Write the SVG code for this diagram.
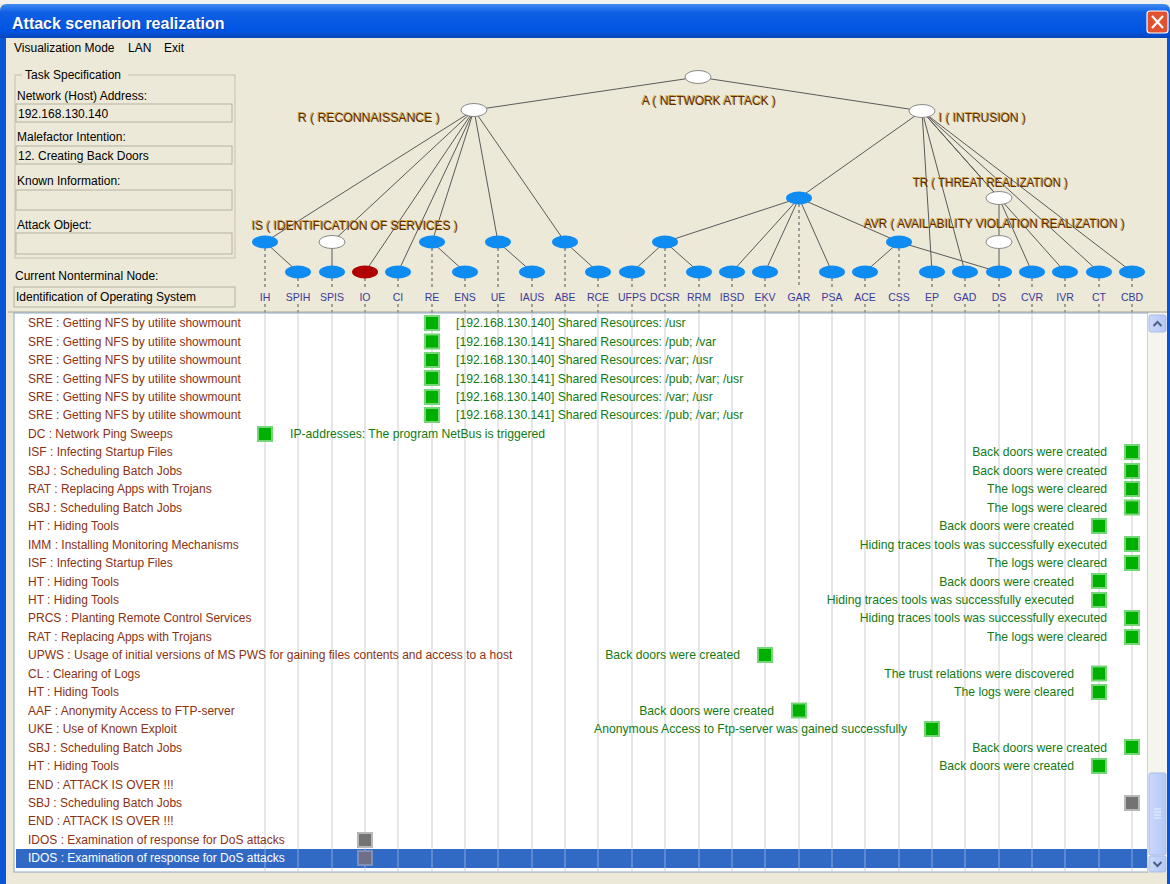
<svg xmlns="http://www.w3.org/2000/svg" width="1170" height="884" viewBox="0 0 1170 884">
<defs>
<linearGradient id="tb" x1="0" y1="0" x2="0" y2="1">
<stop offset="0" stop-color="#3f8cf3"/>
<stop offset="0.25" stop-color="#0f5fe3"/>
<stop offset="0.8" stop-color="#0054e3"/>
<stop offset="1" stop-color="#0a45b8"/>
</linearGradient>
<linearGradient id="sb" x1="0" y1="0" x2="1" y2="0">
<stop offset="0" stop-color="#c9d8fc"/>
<stop offset="1" stop-color="#b4c8f6"/>
</linearGradient>
<style>
.ui{font-family:"Liberation Sans",Arial,sans-serif;font-size:12px;fill:#000}
.lt{font-family:"Liberation Sans",Arial,sans-serif;font-size:12px;fill:#8a3212}
.gt{font-family:"Liberation Sans",Arial,sans-serif;font-size:12.2px;fill:#137a13}
.gr{font-family:"Liberation Sans",Arial,sans-serif;font-size:12.2px;fill:#137a13;text-anchor:end}
.sq{fill:#00b000;stroke:#74d674;stroke-width:2}
.gs{fill:#737373;stroke:#b8b8b8;stroke-width:2}
.vl{stroke:#cfcfcf;stroke-width:1}
.e{stroke:#5a5a5a;stroke-width:1;fill:none}
.d{stroke:#555;stroke-width:1;stroke-dasharray:3 3}
.bn{fill:#0e8cf2}
.wn{fill:#fff;stroke:#8a8a8a;stroke-width:1}
.rn{fill:#b00000}
.cl{font-family:"Liberation Sans",Arial,sans-serif;font-size:10.5px;fill:#3a3a9a;text-anchor:middle}
.tl{font-family:"Liberation Sans",Arial,sans-serif;font-size:13px;fill:#5e2a08}
.ts{font-family:"Liberation Sans",Arial,sans-serif;font-size:13px;fill:#c9a23c}
.fld{fill:#ece9d8;stroke:#b5b2a2;stroke-width:1}
</style>
</defs>

<!-- window background -->
<rect x="0" y="0" width="1170" height="884" fill="#ece9d8"/>
<rect x="0" y="0" width="1170" height="4" fill="#f2f2f2"/>
<!-- title bar -->
<g id="titlebar">
<path d="M0,38 L0,11 Q0,4 7,4 L1163,4 Q1170,4 1170,11 L1170,38 Z" fill="url(#tb)"/>
<text x="13" y="30" font-family="Liberation Sans,Arial,sans-serif" font-size="16" font-weight="bold" fill="#0a2a80" opacity="0.6">Attack scenarion realization</text>
<text x="12" y="29" font-family="Liberation Sans,Arial,sans-serif" font-size="16" font-weight="bold" fill="#ffffff">Attack scenarion realization</text>
<rect x="1147" y="11" width="21" height="22" rx="3" fill="#e2502f" stroke="#ffffff" stroke-width="1.2"/>
<path d="M1152,16 L1163,28 M1163,16 L1152,28" stroke="#ffffff" stroke-width="2.2"/>
</g>
<!-- window side borders -->
<rect x="0" y="38" width="6" height="846" fill="#0a54d6"/>
<rect x="1167" y="38" width="3" height="846" fill="#0a54d6"/>

<!-- menu -->
<g id="menu">
<text class="ui" x="14" y="52">Visualization Mode</text>
<text class="ui" x="128" y="52">LAN</text>
<text class="ui" x="164" y="52">Exit</text>
</g>

<!-- left panel -->
<g id="taskpanel">
<rect x="15" y="75" width="220" height="183" fill="none" stroke="#c5c2b2" stroke-width="1"/>
<rect x="22" y="68" width="106" height="14" fill="#ece9d8"/>
<text class="ui" x="25" y="79">Task Specification</text>
<text class="ui" x="17" y="100">Network (Host) Address:</text>
<rect class="fld" x="16" y="104" width="216" height="18"/>
<text class="ui" x="18" y="118">192.168.130.140</text>
<text class="ui" x="17" y="141">Malefactor Intention:</text>
<rect class="fld" x="16" y="146" width="216" height="18"/>
<text class="ui" x="18" y="160">12. Creating Back Doors</text>
<text class="ui" x="17" y="185">Known Information:</text>
<rect class="fld" x="16" y="190" width="216" height="20"/>
<text class="ui" x="17" y="229">Attack Object:</text>
<rect class="fld" x="16" y="233" width="216" height="21"/>
<text class="ui" x="15" y="280">Current Nonterminal Node:</text>
<rect class="fld" x="14" y="287" width="221" height="20"/>
<text class="ui" x="16" y="301">Identification of Operating System</text>
</g>

<!-- connectors -->
<g id="connectors">
<line class="e" x1="698" y1="77" x2="474" y2="110"/>
<line class="e" x1="698" y1="77" x2="922" y2="111"/>
<line class="e" x1="474" y1="110" x2="265" y2="242"/>
<line class="e" x1="474" y1="110" x2="332" y2="242"/>
<line class="e" x1="474" y1="110" x2="365" y2="272"/>
<line class="e" x1="474" y1="110" x2="398" y2="272"/>
<line class="e" x1="474" y1="110" x2="432" y2="242"/>
<line class="e" x1="474" y1="110" x2="498" y2="242"/>
<line class="e" x1="474" y1="110" x2="565" y2="242"/>
<line class="e" x1="265" y1="242" x2="298" y2="272"/>
<line class="e" x1="332" y1="242" x2="332" y2="272"/>
<line class="e" x1="432" y1="242" x2="465" y2="272"/>
<line class="e" x1="498" y1="242" x2="532" y2="272"/>
<line class="e" x1="565" y1="242" x2="598" y2="272"/>
<line class="e" x1="665" y1="242" x2="632" y2="272"/>
<line class="e" x1="665" y1="242" x2="699" y2="272"/>
<line class="e" x1="799" y1="198" x2="665" y2="242"/>
<line class="e" x1="799" y1="198" x2="732" y2="272"/>
<line class="e" x1="799" y1="198" x2="765" y2="272"/>
<line class="e" x1="799" y1="198" x2="832" y2="272"/>
<line class="e" x1="799" y1="198" x2="899" y2="242"/>
<line class="e" x1="899" y1="242" x2="865" y2="272"/>
<line class="e" x1="899" y1="242" x2="999" y2="272"/>
<line class="e" x1="922" y1="111" x2="799" y2="198"/>
<line class="e" x1="922" y1="111" x2="932" y2="272"/>
<line class="e" x1="922" y1="111" x2="965" y2="272"/>
<line class="e" x1="922" y1="111" x2="999" y2="198"/>
<line class="e" x1="999" y1="198" x2="999" y2="242"/>
<line class="e" x1="999" y1="242" x2="999" y2="272"/>
<line class="e" x1="999" y1="198" x2="1032" y2="272"/>
<line class="e" x1="922" y1="111" x2="1065" y2="272"/>
<line class="e" x1="922" y1="111" x2="1099" y2="272"/>
<line class="e" x1="922" y1="111" x2="1132" y2="272"/>
<!-- dashed drop lines -->
<path class="d" d="M265,248V288M265,304V313 M298,278V288M298,304V313 M332,278V288M332,304V313 M365,278V288M365,304V313 M398,278V288M398,304V313 M432,248V288M432,304V313 M465,278V288M465,304V313 M498,248V288M498,304V313 M532,278V288M532,304V313 M565,248V288M565,304V313 M598,278V288M598,304V313 M632,278V288M632,304V313 M665,248V288M665,304V313 M699,278V288M699,304V313 M732,278V288M732,304V313 M765,278V288M765,304V313 M799,204V288M799,304V313 M832,278V288M832,304V313 M865,278V288M865,304V313 M899,248V288M899,304V313 M932,278V288M932,304V313 M965,278V288M965,304V313 M999,278V288M999,304V313 M1032,278V288M1032,304V313 M1065,278V288M1065,304V313 M1099,278V288M1099,304V313 M1132,278V288M1132,304V313"/>
</g>

<!-- tree labels -->
<g id="treelabels">
<text class="ts" x="641" y="104" textLength="134" lengthAdjust="spacingAndGlyphs">A ( NETWORK ATTACK )</text>
<text class="tl" x="642" y="105" textLength="134" lengthAdjust="spacingAndGlyphs">A ( NETWORK ATTACK )</text>
<text class="ts" x="297" y="121" textLength="142" lengthAdjust="spacingAndGlyphs">R ( RECONNAISSANCE )</text>
<text class="tl" x="298" y="122" textLength="142" lengthAdjust="spacingAndGlyphs">R ( RECONNAISSANCE )</text>
<text class="ts" x="938" y="121" textLength="87" lengthAdjust="spacingAndGlyphs">I ( INTRUSION )</text>
<text class="tl" x="939" y="122" textLength="87" lengthAdjust="spacingAndGlyphs">I ( INTRUSION )</text>
<text class="ts" x="251" y="229" textLength="206" lengthAdjust="spacingAndGlyphs">IS ( IDENTIFICATION OF SERVICES )</text>
<text class="tl" x="252" y="230" textLength="206" lengthAdjust="spacingAndGlyphs">IS ( IDENTIFICATION OF SERVICES )</text>
<text class="ts" x="912" y="186" textLength="155" lengthAdjust="spacingAndGlyphs">TR ( THREAT REALIZATION )</text>
<text class="tl" x="913" y="187" textLength="155" lengthAdjust="spacingAndGlyphs">TR ( THREAT REALIZATION )</text>
<text class="ts" x="863" y="227" textLength="261" lengthAdjust="spacingAndGlyphs">AVR ( AVAILABILITY VIOLATION REALIZATION )</text>
<text class="tl" x="864" y="228" textLength="261" lengthAdjust="spacingAndGlyphs">AVR ( AVAILABILITY VIOLATION REALIZATION )</text>
</g>

<!-- nodes -->
<g id="node-A"><ellipse class="wn" cx="698" cy="77" rx="13" ry="6.5"/></g>
<g id="node-R"><ellipse class="wn" cx="474" cy="110" rx="13" ry="6.5"/></g>
<g id="node-I"><ellipse class="wn" cx="922" cy="111" rx="13" ry="6.5"/></g>
<g id="node-IS"><ellipse class="bn" cx="265" cy="242" rx="13" ry="6.5"/></g>
<g id="node-SPISp"><ellipse class="wn" cx="332" cy="242" rx="13" ry="6.5"/></g>
<g id="node-REp"><ellipse class="bn" cx="432" cy="242" rx="13" ry="6.5"/></g>
<g id="node-UEp"><ellipse class="bn" cx="498" cy="242" rx="13" ry="6.5"/></g>
<g id="node-ABEp"><ellipse class="bn" cx="565" cy="242" rx="13" ry="6.5"/></g>
<g id="node-DCSRp"><ellipse class="bn" cx="665" cy="242" rx="13" ry="6.5"/></g>
<g id="node-GARp"><ellipse class="bn" cx="799" cy="198" rx="13" ry="6.5"/></g>
<g id="node-TR"><ellipse class="wn" cx="999" cy="198" rx="13" ry="6.5"/></g>
<g id="node-AVR"><ellipse class="bn" cx="899" cy="242" rx="13" ry="6.5"/></g>
<g id="node-DSp"><ellipse class="wn" cx="999" cy="242" rx="13" ry="6.5"/></g>
<g id="node-SPIH"><ellipse class="bn" cx="298" cy="272" rx="13" ry="6.5"/></g>
<g id="node-SPIS"><ellipse class="bn" cx="332" cy="272" rx="13" ry="6.5"/></g>
<g id="node-IO"><ellipse class="rn" cx="365" cy="272" rx="13" ry="6.5"/></g>
<g id="node-CI"><ellipse class="bn" cx="398" cy="272" rx="13" ry="6.5"/></g>
<g id="node-ENS"><ellipse class="bn" cx="465" cy="272" rx="13" ry="6.5"/></g>
<g id="node-IAUS"><ellipse class="bn" cx="532" cy="272" rx="13" ry="6.5"/></g>
<g id="node-RCE"><ellipse class="bn" cx="598" cy="272" rx="13" ry="6.5"/></g>
<g id="node-UFPS"><ellipse class="bn" cx="632" cy="272" rx="13" ry="6.5"/></g>
<g id="node-RRM"><ellipse class="bn" cx="699" cy="272" rx="13" ry="6.5"/></g>
<g id="node-IBSD"><ellipse class="bn" cx="732" cy="272" rx="13" ry="6.5"/></g>
<g id="node-EKV"><ellipse class="bn" cx="765" cy="272" rx="13" ry="6.5"/></g>
<g id="node-PSA"><ellipse class="bn" cx="832" cy="272" rx="13" ry="6.5"/></g>
<g id="node-ACE"><ellipse class="bn" cx="865" cy="272" rx="13" ry="6.5"/></g>
<g id="node-EP"><ellipse class="bn" cx="932" cy="272" rx="13" ry="6.5"/></g>
<g id="node-GAD"><ellipse class="bn" cx="965" cy="272" rx="13" ry="6.5"/></g>
<g id="node-DS"><ellipse class="bn" cx="999" cy="272" rx="13" ry="6.5"/></g>
<g id="node-CVR"><ellipse class="bn" cx="1032" cy="272" rx="13" ry="6.5"/></g>
<g id="node-IVR"><ellipse class="bn" cx="1065" cy="272" rx="13" ry="6.5"/></g>
<g id="node-CT"><ellipse class="bn" cx="1099" cy="272" rx="13" ry="6.5"/></g>
<g id="node-CBD"><ellipse class="bn" cx="1132" cy="272" rx="13" ry="6.5"/></g>

<!-- column labels -->
<g id="columnlabels">
<text class="cl" x="265" y="301">IH</text>
<text class="cl" x="298" y="301">SPIH</text>
<text class="cl" x="332" y="301">SPIS</text>
<text class="cl" x="365" y="301">IO</text>
<text class="cl" x="398" y="301">CI</text>
<text class="cl" x="432" y="301">RE</text>
<text class="cl" x="465" y="301">ENS</text>
<text class="cl" x="498" y="301">UE</text>
<text class="cl" x="532" y="301">IAUS</text>
<text class="cl" x="565" y="301">ABE</text>
<text class="cl" x="598" y="301">RCE</text>
<text class="cl" x="632" y="301">UFPS</text>
<text class="cl" x="665" y="301">DCSR</text>
<text class="cl" x="699" y="301">RRM</text>
<text class="cl" x="732" y="301">IBSD</text>
<text class="cl" x="765" y="301">EKV</text>
<text class="cl" x="799" y="301">GAR</text>
<text class="cl" x="832" y="301">PSA</text>
<text class="cl" x="865" y="301">ACE</text>
<text class="cl" x="899" y="301">CSS</text>
<text class="cl" x="932" y="301">EP</text>
<text class="cl" x="965" y="301">GAD</text>
<text class="cl" x="999" y="301">DS</text>
<text class="cl" x="1032" y="301">CVR</text>
<text class="cl" x="1065" y="301">IVR</text>
<text class="cl" x="1099" y="301">CT</text>
<text class="cl" x="1132" y="301">CBD</text>
</g>

<!-- list -->
<g id="list">
<line x1="8" y1="312" x2="1167" y2="312" stroke="#a7a494"/>
<rect x="14" y="313" width="1134" height="559" fill="#ffffff" stroke="#8fa6c4"/>
<path class="vl" d="M265,314V871M298,314V871M332,314V871M365,314V871M398,314V871M432,314V871M465,314V871M498,314V871M532,314V871M565,314V871M598,314V871M632,314V871M665,314V871M699,314V871M732,314V871M765,314V871M799,314V871M832,314V871M865,314V871M899,314V871M932,314V871M965,314V871M999,314V871M1032,314V871M1065,314V871M1099,314V871M1132,314V871"/>
<rect x="16" y="849" width="1131" height="19" fill="#316ac5"/>
<path stroke="#8aa6dc" stroke-width="1" d="M265,849V868M298,849V868M332,849V868M365,849V868M398,849V868M432,849V868M465,849V868M498,849V868M532,849V868M565,849V868M598,849V868M632,849V868M665,849V868M699,849V868M732,849V868M765,849V868M799,849V868M832,849V868M865,849V868M899,849V868M932,849V868M965,849V868M999,849V868M1032,849V868M1065,849V868M1099,849V868M1132,849V868"/>

<text class="lt" x="28" y="327">SRE : Getting NFS by utilite showmount</text>
<text class="lt" x="28" y="346">SRE : Getting NFS by utilite showmount</text>
<text class="lt" x="28" y="364">SRE : Getting NFS by utilite showmount</text>
<text class="lt" x="28" y="383">SRE : Getting NFS by utilite showmount</text>
<text class="lt" x="28" y="401">SRE : Getting NFS by utilite showmount</text>
<text class="lt" x="28" y="419">SRE : Getting NFS by utilite showmount</text>
<text class="lt" x="28" y="438">DC : Network Ping Sweeps</text>
<text class="lt" x="28" y="456">ISF : Infecting Startup Files</text>
<text class="lt" x="28" y="475">SBJ : Scheduling Batch Jobs</text>
<text class="lt" x="28" y="493">RAT : Replacing Apps with Trojans</text>
<text class="lt" x="28" y="512">SBJ : Scheduling Batch Jobs</text>
<text class="lt" x="28" y="530">HT : Hiding Tools</text>
<text class="lt" x="28" y="549">IMM : Installing Monitoring Mechanisms</text>
<text class="lt" x="28" y="567">ISF : Infecting Startup Files</text>
<text class="lt" x="28" y="586">HT : Hiding Tools</text>
<text class="lt" x="28" y="604">HT : Hiding Tools</text>
<text class="lt" x="28" y="622">PRCS : Planting Remote Control Services</text>
<text class="lt" x="28" y="641">RAT : Replacing Apps with Trojans</text>
<text class="lt" x="28" y="659">UPWS : Usage of initial versions of MS PWS for gaining files contents and access to a host</text>
<text class="lt" x="28" y="678">CL : Clearing of Logs</text>
<text class="lt" x="28" y="696">HT : Hiding Tools</text>
<text class="lt" x="28" y="715">AAF : Anonymity Access to FTP-server</text>
<text class="lt" x="28" y="733">UKE : Use of Known Exploit</text>
<text class="lt" x="28" y="752">SBJ : Scheduling Batch Jobs</text>
<text class="lt" x="28" y="770">HT : Hiding Tools</text>
<text class="lt" x="28" y="789">END : ATTACK IS OVER !!!</text>
<text class="lt" x="28" y="807">SBJ : Scheduling Batch Jobs</text>
<text class="lt" x="28" y="825">END : ATTACK IS OVER !!!</text>
<text class="lt" x="28" y="844">IDOS : Examination of response for DoS attacks</text>
<text class="lt" x="28" y="862" style="fill:#ffffff">IDOS : Examination of response for DoS attacks</text>

<rect class="sq" x="425" y="316" width="14" height="14"/>
<rect class="sq" x="425" y="334.5" width="14" height="14"/>
<rect class="sq" x="425" y="353" width="14" height="14"/>
<rect class="sq" x="425" y="371" width="14" height="14"/>
<rect class="sq" x="425" y="390" width="14" height="14"/>
<rect class="sq" x="425" y="408" width="14" height="14"/>
<text class="gt" x="456" y="327">[192.168.130.140] Shared Resources: /usr</text>
<text class="gt" x="456" y="346">[192.168.130.141] Shared Resources: /pub; /var</text>
<text class="gt" x="456" y="364">[192.168.130.140] Shared Resources: /var; /usr</text>
<text class="gt" x="456" y="383">[192.168.130.141] Shared Resources: /pub; /var; /usr</text>
<text class="gt" x="456" y="401">[192.168.130.140] Shared Resources: /var; /usr</text>
<text class="gt" x="456" y="419">[192.168.130.141] Shared Resources: /pub; /var; /usr</text>

<rect class="sq" x="258" y="427" width="14" height="14"/>
<text class="gt" x="290" y="438">IP-addresses: The program NetBus is triggered</text>

<rect class="sq" x="1125" y="445" width="14" height="14"/>
<text class="gr" x="1107" y="456">Back doors were created</text>
<rect class="sq" x="1125" y="464" width="14" height="14"/>
<text class="gr" x="1107" y="475">Back doors were created</text>
<rect class="sq" x="1125" y="482" width="14" height="14"/>
<text class="gr" x="1107" y="493">The logs were cleared</text>
<rect class="sq" x="1125" y="500.5" width="14" height="14"/>
<text class="gr" x="1107" y="512">The logs were cleared</text>
<rect class="sq" x="1092" y="519" width="14" height="14"/>
<text class="gr" x="1074" y="530">Back doors were created</text>
<rect class="sq" x="1125" y="537" width="14" height="14"/>
<text class="gr" x="1107" y="549">Hiding traces tools was successfully executed</text>
<rect class="sq" x="1125" y="556" width="14" height="14"/>
<text class="gr" x="1107" y="567">The logs were cleared</text>
<rect class="sq" x="1092" y="574" width="14" height="14"/>
<text class="gr" x="1074" y="586">Back doors were created</text>
<rect class="sq" x="1092" y="593" width="14" height="14"/>
<text class="gr" x="1074" y="604">Hiding traces tools was successfully executed</text>
<rect class="sq" x="1125" y="611" width="14" height="14"/>
<text class="gr" x="1107" y="622">Hiding traces tools was successfully executed</text>
<rect class="sq" x="1125" y="630" width="14" height="14"/>
<text class="gr" x="1107" y="641">The logs were cleared</text>
<rect class="sq" x="758" y="648" width="14" height="14"/>
<text class="gr" x="740" y="659">Back doors were created</text>
<rect class="sq" x="1092" y="666.5" width="14" height="14"/>
<text class="gr" x="1074" y="678">The trust relations were discovered</text>
<rect class="sq" x="1092" y="685" width="14" height="14"/>
<text class="gr" x="1074" y="696">The logs were cleared</text>
<rect class="sq" x="792" y="703.5" width="14" height="14"/>
<text class="gr" x="774" y="715">Back doors were created</text>
<rect class="sq" x="925" y="722" width="14" height="14"/>
<text class="gr" x="907" y="733">Anonymous Access to Ftp-server was gained successfully</text>
<rect class="sq" x="1125" y="740" width="14" height="14"/>
<text class="gr" x="1107" y="752">Back doors were created</text>
<rect class="sq" x="1092" y="759" width="14" height="14"/>
<text class="gr" x="1074" y="770">Back doors were created</text>

<rect class="gs" x="1125" y="796" width="14" height="14"/>
<rect class="gs" x="358" y="833" width="14" height="14"/>
<rect x="358" y="851" width="14" height="14" fill="#6f6f88" stroke="#7f8fb8" stroke-width="2"/>
</g>

<!-- scrollbar -->
<g id="scrollbar">
<rect x="1148" y="313" width="19" height="559" fill="#f5f4ee"/>
<rect x="1149" y="315" width="17" height="17" rx="2" fill="url(#sb)" stroke="#a8bde8"/>
<path d="M1153.5,326 L1157.5,322 L1161.5,326" fill="none" stroke="#4d6185" stroke-width="2"/>
<rect x="1149" y="773" width="17" height="82" rx="2" fill="url(#sb)" stroke="#a8bde8"/>
<path d="M1154,809H1161M1154,812H1161M1154,815H1161M1154,818H1161" stroke="#eef3ff" stroke-width="1"/>
<rect x="1149" y="856" width="17" height="16" rx="2" fill="url(#sb)" stroke="#a8bde8"/>
<path d="M1153.5,862 L1157.5,866 L1161.5,862" fill="none" stroke="#4d6185" stroke-width="2"/>
</g>
</svg>
